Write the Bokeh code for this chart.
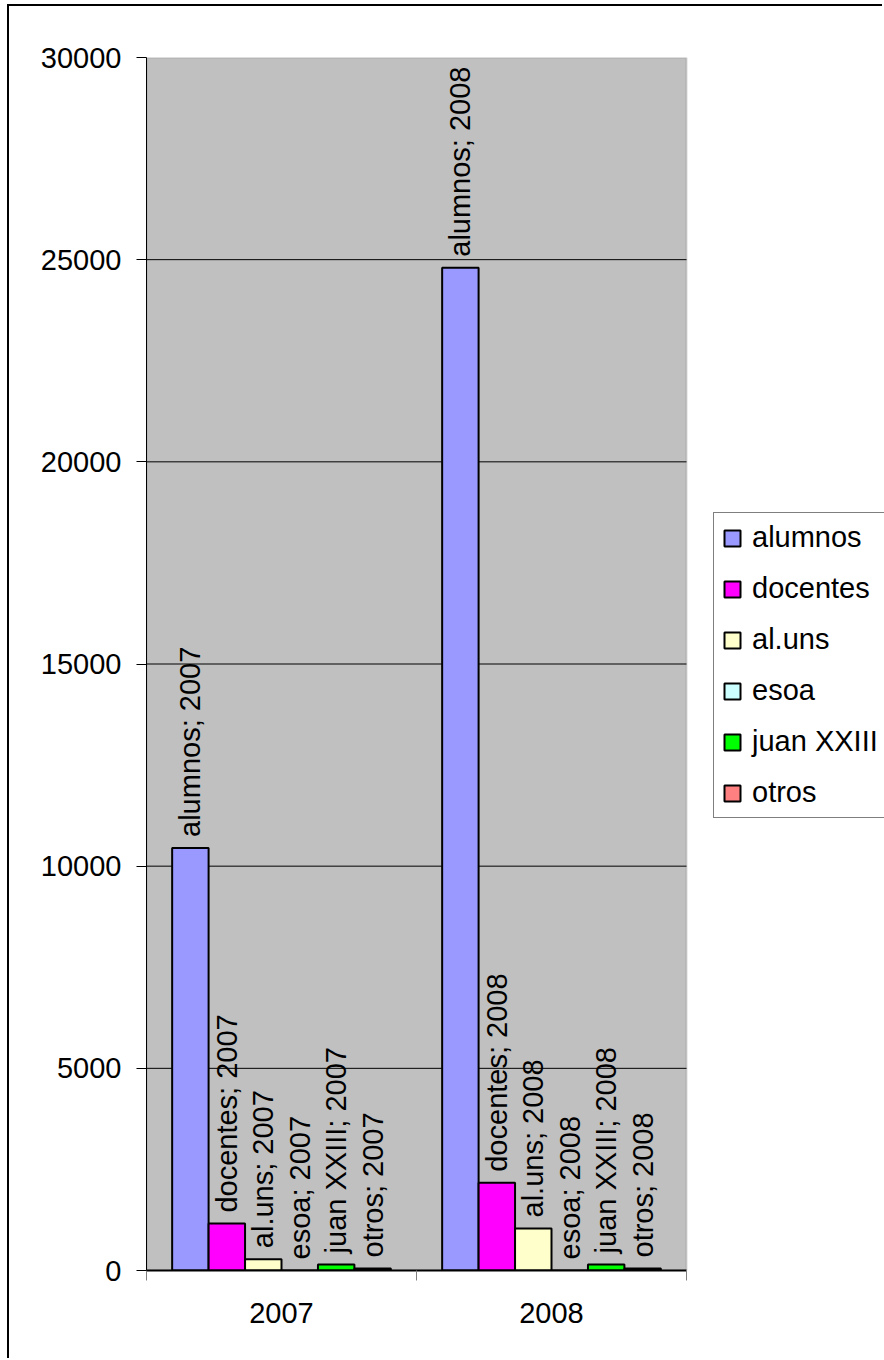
from math import pi
from bokeh.plotting import figure
from bokeh.models import (Range1d, LinearAxis, FixedTicker, ColumnDataSource,
                          NumeralTickFormatter, BoxAnnotation)
from bokeh.transform import dodge
from bokeh.core.properties import value
from bokeh.embed import file_html
from bokeh.resources import INLINE

years = ["2007", "2008"]
series_names = ["alumnos", "docentes", "al.uns", "esoa", "juan XXIII", "otros"]
alumnos = [10450, 24800]
docentes = [1160, 2170]
al_uns = [280, 1040]
esoa = [0, 0]
juan_xxiii = [150, 150]
otros = [50, 50]
series_values = [alumnos, docentes, al_uns, esoa, juan_xxiii, otros]
colors = ["#9999FF", "#FF00FF", "#FFFFCC", "#CCFFFF", "#00FF00", "#FF8080"]
y_ticks = [0, 5000, 10000, 15000, 20000, 25000, 30000]

FONT = "Liberation Sans"
FS = "29px"

W, H = 875, 1354
LEFT, TOP, BOTTOM = 137, 51, 90
PLOT_W = 540                      # width of the grey plot area in px
n_cat = len(years)
frame_w = W - LEFT
x_end = n_cat * frame_w / PLOT_W  # frame extends to the right to host the legend

cat_centres = [i + 0.5 for i in range(n_cat)]
cat_edges = list(range(n_cat + 1))

p = figure(x_range=Range1d(0, x_end), y_range=Range1d(0, y_ticks[-1]),
           width=W, height=H, output_backend="svg", toolbar_location=None,
           x_axis_location=None,
           min_border_left=LEFT, min_border_top=TOP, min_border_right=0, min_border_bottom=BOTTOM)
p.styles = {"border-left": "2px solid black", "border-top": "2px solid black",
            "margin-left": "7px", "margin-top": "4px"}

p.background_fill_color = "white"
p.border_fill_color = "white"
p.outline_line_color = None
p.xgrid.grid_line_color = None
p.ygrid.grid_line_color = None

# grey plot area
p.add_layout(BoxAnnotation(left=0, right=n_cat, bottom=y_ticks[0], top=y_ticks[-1],
                           fill_color="#C0C0C0", fill_alpha=1,
                           line_color="#808080", line_width=2, level="underlay"))
# horizontal gridlines inside plot area
inner = y_ticks[1:-1]
p.segment(x0=[0] * len(inner), x1=[n_cat] * len(inner), y0=inner, y1=inner,
          line_color="black", line_width=1)

ya = p.yaxis[0]
ya.ticker = FixedTicker(ticks=y_ticks)
ya.formatter = NumeralTickFormatter(format="0")
ya.major_tick_out = 10
ya.major_tick_in = 0
ya.minor_tick_line_color = None
ya.major_tick_line_color = "black"
ya.axis_line_color = "black"
ya.major_label_text_font = FONT
ya.major_label_text_font_size = FS
ya.major_label_text_color = "black"
ya.major_label_standoff = 15

tick_axis = LinearAxis(ticker=FixedTicker(ticks=cat_edges), bounds=(0, n_cat),
                       major_label_text_font_size="0px", major_label_standoff=0,
                       major_label_overrides={e: "" for e in cat_edges},
                       major_tick_out=10, major_tick_in=0, major_tick_line_color="#808080",
                       minor_tick_line_color=None, axis_line_color="black", axis_line_width=2)
cat_axis = LinearAxis(ticker=FixedTicker(ticks=cat_centres), bounds=(0, n_cat),
                      major_label_overrides={c: y for c, y in zip(cat_centres, years)},
                      major_tick_line_color=None, minor_tick_line_color=None,
                      axis_line_color=None, major_tick_out=0, major_tick_in=0,
                      major_label_text_font=FONT, major_label_text_font_size=FS,
                      major_label_text_color="black", major_label_standoff=22)
p.add_layout(tick_axis, "below")
p.add_layout(cat_axis, "below")

bar_w = 0.135
n = len(series_names)
for i, (name, vals, col) in enumerate(zip(series_names, series_values, colors)):
    off = (i - (n - 1) / 2) * bar_w
    src = ColumnDataSource(dict(x=cat_centres, val=vals,
                                label=[f"{name}; {y}" for y in years]))
    p.vbar(x=dodge("x", off), top="val", width=bar_w, source=src,
           fill_color=col, line_color="black", line_width=2, legend_label=name)
    p.text(x=dodge("x", off), y="val", text="label", source=src,
           angle=pi / 2, text_align="left", text_baseline="middle", y_offset=-11,
           text_font=value(FONT), text_font_size=FS, text_color="black")

lg = p.legend[0]
lg.location = (PLOT_W + 27, 452)
lg.label_text_font = FONT
lg.label_text_font_size = FS
lg.label_text_color = "black"
lg.glyph_width = 20
lg.glyph_height = 20
lg.label_height = 33
lg.spacing = 18
lg.padding = 8
lg.margin = 0
lg.label_standoff = 10
lg.border_line_color = "black"
lg.border_line_width = 1
lg.background_fill_color = "white"
lg.background_fill_alpha = 1

open("out.html", "w").write(file_html(p, INLINE))
